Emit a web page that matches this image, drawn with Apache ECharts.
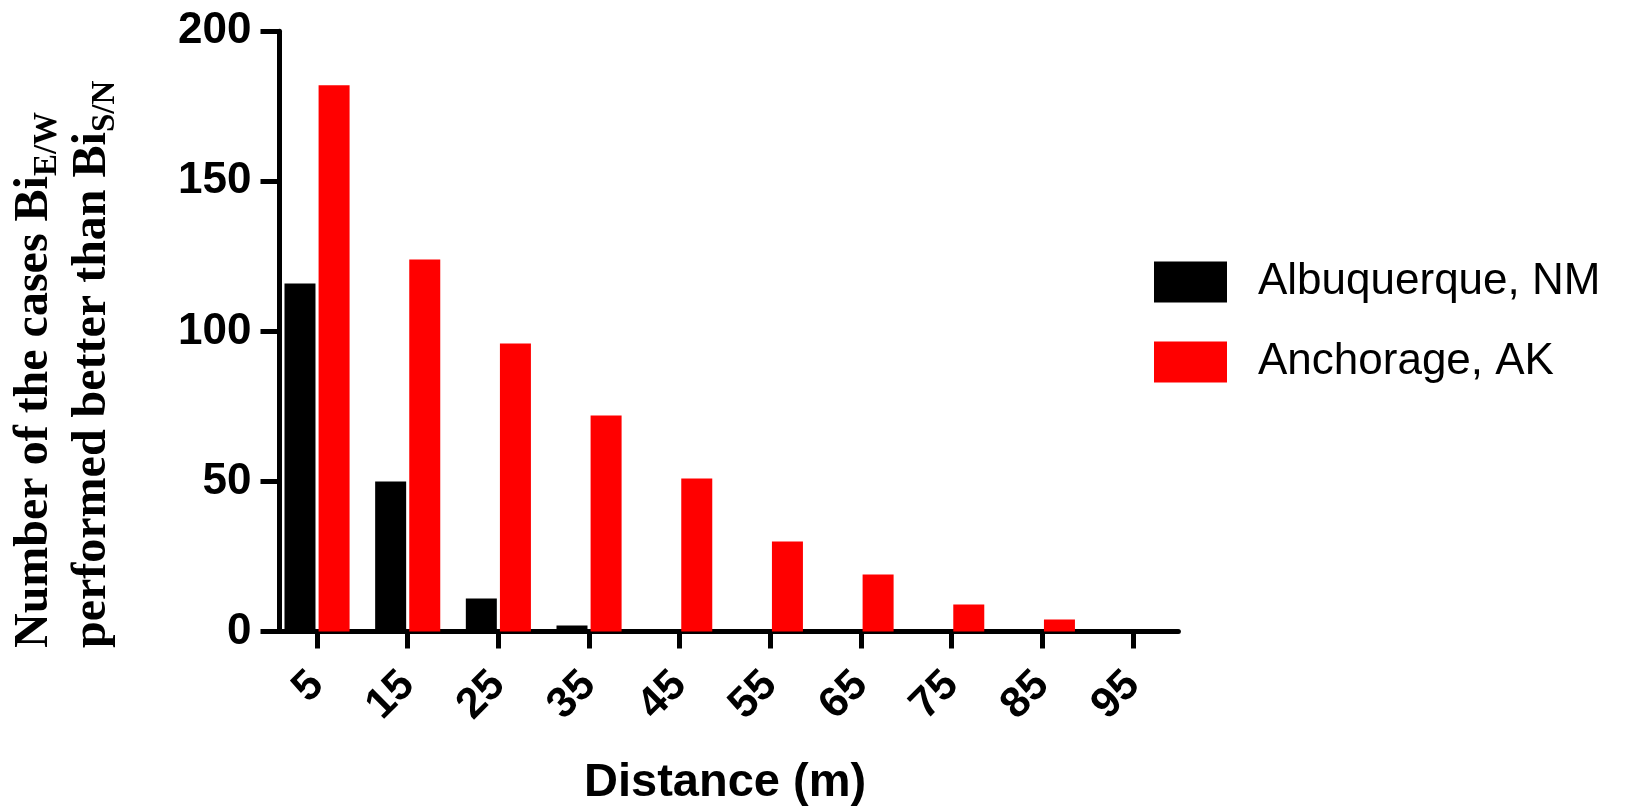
<!DOCTYPE html>
<html>
<head>
<meta charset="utf-8">
<script src="https://cdn.jsdelivr.net/npm/echarts@6/dist/echarts.min.js"></script>
<style>
html,body{margin:0;padding:0;background:#ffffff;}
#chart{width:1649px;height:808px;}
</style>
</head>
<body>
<div id="chart"></div>
<script>
// ---- data ----
const categories = ['5', '15', '25', '35', '45', '55', '65', '75', '85', '95'];
const albuquerque = [116, 50, 11, 2, 0, 0, 0, 0, 0, 0];
const anchorage = [182, 124, 96, 72, 51, 30, 19, 9, 4, 0];
const seriesNames = ['Albuquerque, NM', 'Anchorage, AK'];
const yMin = 0, yMax = 200, yInterval = 50;
const xTitle = 'Distance (m)';
const yTitleLine1 = ['Number of the cases Bi', 'E/W'];
const yTitleLine2 = ['performed better than Bi', 'S/N'];

// ---- chart ----
const chart = echarts.init(document.getElementById('chart'), null, {renderer: 'canvas'});
const sans = '"Liberation Sans", Arial, sans-serif';
const serif = '"Liberation Serif", "Times New Roman", serif';

const option = {
  backgroundColor: '#ffffff',
  animation: false,
  grid: {left: 271.7, right: 470.6, top: 31.3, bottom: 176.5, containLabel: false, outerBoundsMode: 'none'},
  legend: {
    orient: 'vertical',
    left: 1154, top: 260,
    padding: 0,
    itemWidth: 73, itemHeight: 41, itemGap: 36,
    icon: 'rect',
    data: seriesNames,
    textStyle: {fontFamily: sans, fontSize: 44, color: '#000', padding: [0, 0, 0, 26]}
  },
  xAxis: {
    type: 'category',
    data: categories,
    boundaryGap: true,
    axisLine: {show: true, lineStyle: {color: '#000', width: 5}},
    axisTick: {show: true, alignWithLabel: true, length: 17, lineStyle: {color: '#000', width: 5}},
    axisLabel: {rotate: 45, margin: 47, fontFamily: sans, fontWeight: 'bold', fontSize: 43, color: '#000', interval: 0},
    splitLine: {show: false},
    name: xTitle,
    nameLocation: 'middle',
    nameGap: 128,
    nameTextStyle: {fontFamily: sans, fontWeight: 'bold', fontSize: 47, color: '#000'}
  },
  yAxis: {
    type: 'value',
    min: yMin, max: yMax, interval: yInterval,
    offset: -7.8,
    axisLine: {show: true, lineStyle: {color: '#000', width: 5}},
    axisTick: {show: true, length: 19, lineStyle: {color: '#000', width: 5}},
    axisLabel: {margin: 28, fontFamily: sans, fontWeight: 'bold', fontSize: 44, color: '#000'},
    splitLine: {show: false}
  },
  series: [
    {name: seriesNames[0], type: 'bar', data: albuquerque, barWidth: 31, barGap: '10%', itemStyle: {color: '#000000'}},
    {name: seriesNames[1], type: 'bar', data: anchorage, barWidth: 31, barGap: '10%', itemStyle: {color: '#ff0000'}}
  ],
  graphic: [{
    type: 'text',
    x: 6, y: 648,
    rotation: Math.PI / 2,
    style: {
      text: '{m|' + yTitleLine1[0] + '}{s|' + yTitleLine1[1] + '}\n{m|' + yTitleLine2[0] + '}{s|' + yTitleLine2[1] + '}',
      fill: '#000',
      align: 'left', textAlign: 'left',
      verticalAlign: 'top', textVerticalAlign: 'top',
      rich: {
        m: {fontFamily: serif, fontWeight: 'bold', fontSize: 48, lineHeight: 58, verticalAlign: 'middle', align: 'left', fill: '#000', color: '#000'},
        s: {fontFamily: serif, fontWeight: 'bold', fontSize: 33, lineHeight: 27, verticalAlign: 'bottom', align: 'left', fill: '#000', color: '#000'}
      }
    }
  }]
};
chart.setOption(option);
</script>
</body>
</html>
